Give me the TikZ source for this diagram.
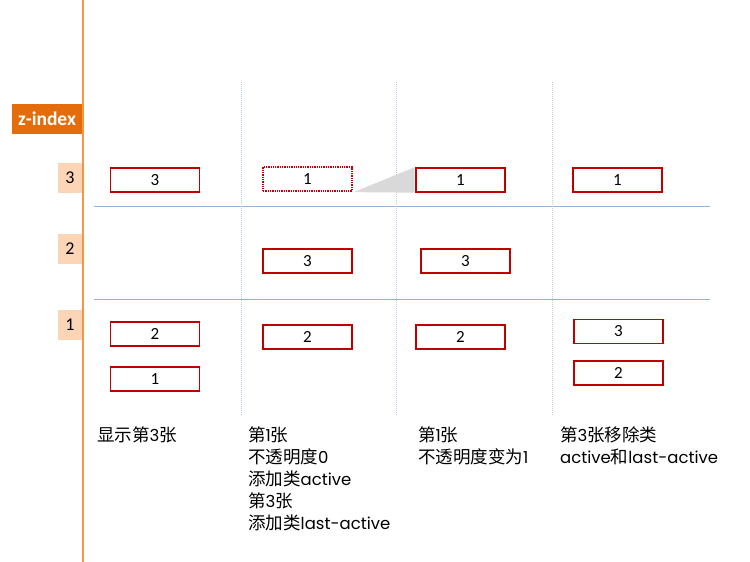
\documentclass[tikz,border=0pt]{standalone}
\usepackage{fontspec}
\setmainfont{Noto Sans CJK SC}
\newfontfamily\numfont{Carlito}
\newfontfamily\latfont{Poppins}
\newcommand{\lt}[1]{{\latfont\fontsize{16.5}{22}\selectfont #1}}
\definecolor{axisor}{HTML}{F79646}
\definecolor{zfill}{HTML}{E46C0A}
\definecolor{lvlfill}{HTML}{FBD5B5}
\definecolor{boxred}{HTML}{C00000}
\definecolor{gridblue}{HTML}{95B3D7}
\definecolor{vblue}{HTML}{B9CDE5}
\definecolor{callgray}{HTML}{D9D9D9}
\begin{document}
\begin{tikzpicture}[x=1pt,y=-1pt,
  slide/.style={draw=boxred,line width=1.3pt,fill=white,minimum width=89pt,minimum height=24pt,inner sep=0pt,font=\numfont\fontsize{17}{17}\selectfont},
  ghost/.style={slide,densely dotted},
  lvl/.style={fill=lvlfill,minimum width=24pt,minimum height=30pt,inner sep=0pt,font=\numfont\fontsize{18}{18}\selectfont},
  note/.style={anchor=north west,align=left,inner sep=0pt,font=\fontsize{17.5}{22}\selectfont},
  hline/.style={draw=gridblue,line width=1pt},
  vline/.style={draw=vblue,line width=1pt,densely dotted}]
\useasboundingbox (0,0) rectangle (750,562);
% axis
\coordinate (axtop) at (83,0);
\coordinate (axbot) at (83,562);
\draw[axisor,line width=1.3pt] (axtop) -- (axbot);
\node[fill=zfill,text=white,minimum width=70pt,minimum height=30pt,inner sep=0pt,font=\numfont\bfseries\fontsize{19.5}{19.5}\selectfont] (z) at (47,119) {z-index};
\node[lvl] (l3) at (70,178) {3};
\node[lvl] (l2) at (70,249) {2};
\node[lvl] (l1) at (70,325) {1};
% grid
\coordinate (h1a) at (94,206); \coordinate (h1b) at (710,206);
\coordinate (h2a) at (94,299); \coordinate (h2b) at (710,299);
\draw[hline] (h1a) -- (h1b);
\draw[hline] (h2a) -- (h2b);
\coordinate (v1a) at (241,82); \coordinate (v1b) at (241,415);
\coordinate (v2a) at (396,82); \coordinate (v2b) at (396,415);
\coordinate (v3a) at (552,82); \coordinate (v3b) at (552,415);
\draw[vline] (v1a) -- (v1b);
\draw[vline] (v2a) -- (v2b);
\draw[vline] (v3a) -- (v3b);
% column 1
\node[slide] (a3) at (155,180) {3};
\node[slide] (a2) at (155,334) {2};
\node[slide] (a1) at (155,379) {1};
% column 2
\node[ghost] (b1) at (307.5,179) {1};
\node[slide] (b3) at (307.5,261) {3};
\node[slide] (b2) at (307.5,337) {2};
% column 3
\node[slide] (c1) at (460.5,180) {1};
\node[slide] (c3) at (465.5,261) {3};
\node[slide] (c2) at (460.5,337) {2};
% callout
\fill[callgray] ([xshift=1pt,yshift=-0.5pt]b1.south east) -- ([xshift=-1pt]c1.north west) -- ([xshift=-1pt]c1.south west) -- cycle;
% column 4
\node[slide] (d1) at (617.5,180) {1};
\node[slide] (d3) at (618.5,331.5) {3};
\node[slide] (d2) at (618.5,373) {2};
% notes
\node[note] (n1) at (97,426.5) {显示第\lt{3}张};
\node[note] (n2) at (248,426.5) {第\lt{1}张\\不透明度\lt{0}\\添加类\lt{active}\\第\lt{3}张\\添加类\lt{last-active}};
\node[note] (n3) at (418,426.5) {第\lt{1}张\\不透明度变为\lt{1}};
\node[note] (n4) at (560,426.5) {第\lt{3}张移除类\\\lt{active}和\lt{last-active}};
\end{tikzpicture}
\end{document}
